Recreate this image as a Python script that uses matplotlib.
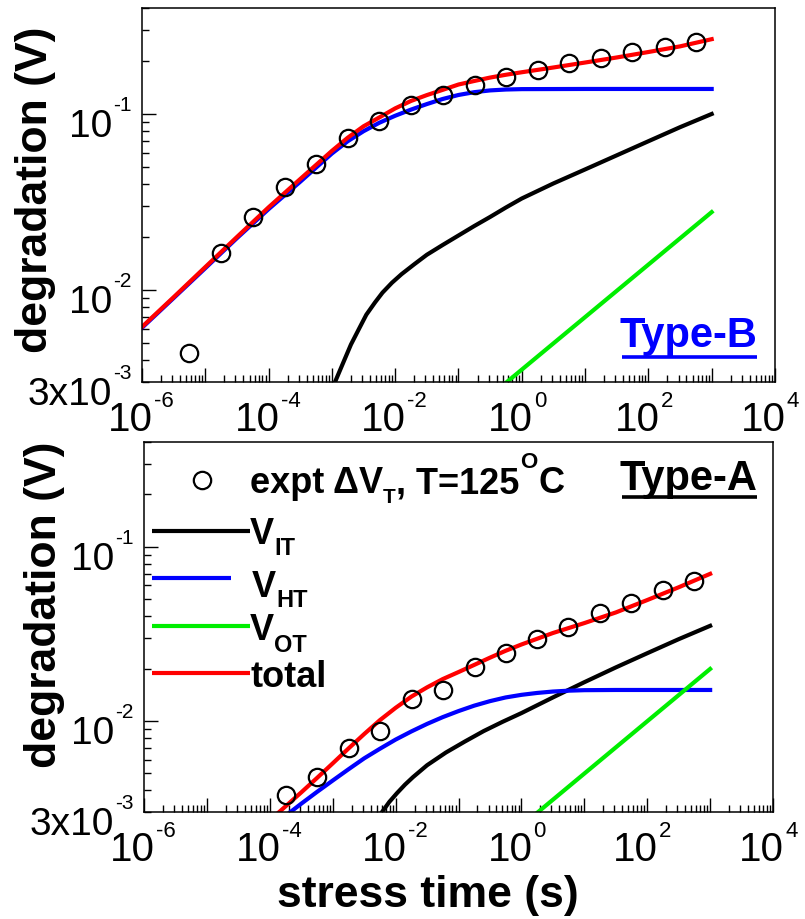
import matplotlib
matplotlib.use('Agg')
import matplotlib.pyplot as plt
from matplotlib.ticker import LogLocator, NullFormatter
import numpy as np

plt.rcParams['font.family'] = ['Liberation Sans', 'DejaVu Sans']

# ---- Type-B (upper panel) ----
b_expt_t = [5.6e-6, 1.8e-5, 5.6e-5, 1.8e-4, 5.6e-4, 1.8e-3, 5.6e-3, 1.8e-2, 5.6e-2,
            0.18, 0.56, 1.8, 5.6, 18, 56, 180, 560]
b_expt_v = [4.4e-3, 0.0162, 0.026, 0.0385, 0.052, 0.073, 0.091, 0.113, 0.129,
            0.147, 0.162, 0.178, 0.195, 0.208, 0.225, 0.240, 0.256]

b_total_t = [1e-6, 3.16e-6, 1e-5, 3.16e-5, 1e-4, 3.16e-4, 1e-3, 1.78e-3, 3.16e-3, 5.6e-3,
             0.01, 0.0178, 0.0316, 0.056, 0.1, 0.178, 0.316, 0.56, 1, 3.16, 10, 31.6,
             100, 316, 1000]
b_total_v = [6.17e-3, 9.1e-3, 0.0135, 0.020, 0.0295, 0.0427, 0.0617, 0.0733, 0.0851, 0.0955,
             0.1076, 0.1186, 0.128, 0.137, 0.147, 0.154, 0.161, 0.167, 0.1726, 0.1837,
             0.196, 0.2094, 0.2249, 0.2421, 0.266]

b_ht_t = [1e-6, 3.16e-6, 1e-5, 3.16e-5, 1e-4, 3.16e-4, 1e-3, 1.78e-3, 3.16e-3, 5.6e-3,
          0.01, 0.0178, 0.0316, 0.056, 0.1, 0.178, 0.316, 0.56, 1, 10, 1000]
b_ht_v = [6.1e-3, 9.0e-3, 0.0133, 0.0197, 0.0288, 0.0412, 0.0596, 0.070, 0.0798, 0.0891,
          0.0977, 0.1059, 0.1138, 0.1216, 0.1282, 0.133, 0.1361, 0.1377, 0.1384, 0.1387,
          0.1387]

b_it_t = [1.12e-3, 1.48e-3, 2e-3, 2.69e-3, 3.5e-3, 4.8e-3, 6.3e-3, 8.9e-3, 0.0126, 0.02,
          0.0316, 0.056, 0.1, 0.178, 0.316, 0.56, 1, 3.16, 10, 31.6, 100, 316, 1000]
b_it_v = [3.0e-3, 3.8e-3, 4.9e-3, 6.03e-3, 7.24e-3, 8.5e-3, 9.66e-3, 0.011, 0.0123, 0.0140,
          0.01585, 0.018, 0.0204, 0.0231, 0.026, 0.0294, 0.0331, 0.0403, 0.0484, 0.0582,
          0.070, 0.0841, 0.100]

b_ot_t = [0.58, 1000]
b_ot_v = [3.0e-3, 0.0277]

# ---- Type-A (lower panel) ----
a_expt_t = [1.8e-4, 5.6e-4, 1.8e-3, 5.6e-3, 0.018, 0.056, 0.18, 0.56, 1.8, 5.6,
            18, 56, 180, 560]
a_expt_v = [3.76e-3, 4.76e-3, 7.0e-3, 8.8e-3, 0.0134, 0.0151, 0.0204, 0.0246, 0.0296,
            0.0347, 0.0418, 0.0477, 0.0566, 0.0638]

a_total_t = [1.35e-4, 3.16e-4, 5.6e-4, 1e-3, 1.78e-3, 3.16e-3, 5.6e-3, 0.01, 0.0178,
             0.0316, 0.056, 0.1, 0.178, 0.316, 0.56, 1, 3.16, 10, 31.6, 100, 316, 1000]
a_total_v = [2.96e-3, 3.89e-3, 4.70e-3, 5.71e-3, 6.95e-3, 8.41e-3, 0.0101, 0.0119, 0.0138,
             0.0156, 0.0174, 0.0191, 0.021, 0.0231, 0.0253, 0.0275, 0.032, 0.0365, 0.042,
             0.0495, 0.0586, 0.070]

a_ht_t = [2.0e-4, 3.16e-4, 5.6e-4, 1e-3, 1.78e-3, 3.16e-3, 5.6e-3, 0.01, 0.0178, 0.0316,
          0.056, 0.1, 0.178, 0.316, 0.56, 1, 1.78, 3.16, 5.6, 10, 31.6, 1000]
a_ht_v = [2.95e-3, 3.35e-3, 3.91e-3, 4.55e-3, 5.28e-3, 6.1e-3, 6.92e-3, 7.82e-3, 8.71e-3,
          9.62e-3, 0.01052, 0.0114, 0.01225, 0.013, 0.01365, 0.01413, 0.01449, 0.01476,
          0.01493, 0.01503, 0.01507, 0.01507]

a_it_t = [6.08e-3, 7.94e-3, 0.0105, 0.0141, 0.0189, 0.0316, 0.063, 0.126, 0.251, 0.501,
          1, 3.16, 10, 31.6, 100, 316, 1000]
a_it_v = [3.0e-3, 3.43e-3, 3.85e-3, 4.31e-3, 4.76e-3, 5.57e-3, 6.59e-3, 7.62e-3, 8.75e-3,
          9.89e-3, 0.0111, 0.01365, 0.0167, 0.0203, 0.0245, 0.0295, 0.0352]

a_ot_t = [1.84, 1000]
a_ot_v = [3.0e-3, 0.0199]

x_label_exps = [-6, -4, -2, 0, 2, 4]
y_labels = [(3e-3, '3x10', '-3'), (1e-2, '10', '-2'), (1e-1, '10', '-1')]

RED = '#ff0000'
BLUE = '#0000ff'
GREEN = '#00ee00'


def setup_axes(ax):
    ax.set_xscale('log')
    ax.set_yscale('log')
    ax.set_xlim(1e-6, 1e4)
    ax.set_ylim(3e-3, 0.4)
    for axis in (ax.xaxis, ax.yaxis):
        axis.set_major_locator(LogLocator(base=10, numticks=30))
        axis.set_minor_locator(LogLocator(base=10, subs=np.arange(2, 10), numticks=30))
        axis.set_major_formatter(NullFormatter())
        axis.set_minor_formatter(NullFormatter())
    ax.tick_params(which='both', direction='in', top=False, right=False, width=1)
    ax.tick_params(which='major', length=10)
    ax.tick_params(which='minor', length=5)
    for s in ax.spines.values():
        s.set_linewidth(1.1)

    # tick labels drawn by hand: big mantissa, small exponent
    for d in x_label_exps:
        ax.annotate('10', xy=(10.0 ** d, 0), xycoords=('data', 'axes fraction'),
                    xytext=(11, -49), textcoords='offset pixels', ha='right',
                    va='baseline', fontsize=29, annotation_clip=False)
        ax.annotate('%d' % d, xy=(10.0 ** d, 0), xycoords=('data', 'axes fraction'),
                    xytext=(12, -25), textcoords='offset pixels', ha='left',
                    va='baseline', fontsize=16, annotation_clip=False)
    for val, main, ex in y_labels:
        ax.annotate(main, xy=(0, val), xycoords=('axes fraction', 'data'),
                    xytext=(-30, -23), textcoords='offset pixels', ha='right',
                    va='baseline', fontsize=28, annotation_clip=False)
        ax.annotate(ex, xy=(0, val), xycoords=('axes fraction', 'data'),
                    xytext=(-29, 3), textcoords='offset pixels', ha='left',
                    va='baseline', fontsize=15, annotation_clip=False)


def draw_curves(ax, it, ht, ot, tot, expt):
    ax.plot(it[0], it[1], color='k', lw=3)
    ax.plot(ht[0], ht[1], color=BLUE, lw=3)
    ax.plot(ot[0], ot[1], color=GREEN, lw=3)
    ax.plot(tot[0], tot[1], color=RED, lw=3)
    ax.plot(expt[0], expt[1], 'o', mfc='none', mec='k', ms=12.5, mew=1.6, zorder=5)


def chain(ax, prev, s, y, dx, dy, size):
    # place a piece of text right after the previous one
    return ax.annotate(s, xy=(1, y), xycoords=(prev, ax.transAxes), xytext=(dx, dy),
                       textcoords='offset pixels', fontsize=size, fontweight='bold',
                       ha='left', va='baseline', annotation_clip=False)


fig = plt.figure(figsize=(8.05, 9.19), dpi=100)
ax1 = fig.add_axes([0.1764, 0.5843, 0.7863, 0.4070])
ax2 = fig.add_axes([0.1789, 0.1164, 0.7814, 0.4026])

setup_axes(ax1)
draw_curves(ax1, (b_it_t, b_it_v), (b_ht_t, b_ht_v), (b_ot_t, b_ot_v),
            (b_total_t, b_total_v), (b_expt_t, b_expt_v))
ax1.text(0.9716, 0.0936, 'Type-B', transform=ax1.transAxes, ha='right', va='baseline',
         color=BLUE, fontsize=30, fontweight='bold')
ax1.plot([0.7583, 0.9716], [0.0668, 0.0668], color=BLUE, lw=2.6,
         solid_capstyle='butt', transform=ax1.transAxes)

setup_axes(ax2)
draw_curves(ax2, (a_it_t, a_it_v), (a_ht_t, a_ht_v), (a_ot_t, a_ot_v),
            (a_total_t, a_total_v), (a_expt_t, a_expt_v))
ax2.text(0.9746, 0.8703, 'Type-A', transform=ax2.transAxes, ha='right', va='baseline',
         color='k', fontsize=30, fontweight='bold')
ax2.plot([0.760, 0.9746], [0.8514, 0.8514], color='k', lw=2.6,
         solid_capstyle='butt', transform=ax2.transAxes)

# legend (hand placed)
ax2.plot([0.0922], [0.8973], 'o', mfc='none', mec='k', ms=12.5, mew=1.6,
         transform=ax2.transAxes, clip_on=False)
t = ax2.text(0.1685, 0.8622, u'expt \u0394V', transform=ax2.transAxes, fontsize=26,
             fontweight='bold', va='baseline')
t = chain(ax2, t, 'T', 0.8622, 0, -10, 15)
t = chain(ax2, t, ', T=125', 0.8622, 0, 0, 26)
t = chain(ax2, t, 'O', 0.8622, 1, 25, 16)
t = chain(ax2, t, 'C', 0.8622, 1, 0, 26)

leg = [('k', 0.1685, 0.7595, 0.1685, 0.7243, 'IT', -11),
       (BLUE, 0.1383, 0.6324, 0.1717, 0.5811, 'HT', -10),
       (GREEN, 0.1685, 0.5027, 0.1685, 0.4649, 'OT', -12)]
for c, x1, ly, tx, ty, sub, dy in leg:
    ax2.plot([0.0127, x1], [ly, ly], color=c, lw=3, transform=ax2.transAxes,
             solid_capstyle='butt')
    v = ax2.text(tx, ty, 'V', transform=ax2.transAxes, fontsize=26,
                 fontweight='bold', va='baseline')
    chain(ax2, v, sub, ty, 0, dy, 17)
ax2.plot([0.0127, 0.1685], [0.3757, 0.3757], color=RED, lw=3, transform=ax2.transAxes,
         solid_capstyle='butt')
ax2.text(0.1685, 0.3378, 'total', transform=ax2.transAxes, fontsize=26,
         fontweight='bold', va='baseline')

fig.text(0.0447, 0.793, 'degradation (V)', rotation=90, ha='center', va='center',
         fontsize=32, fontweight='bold')
fig.text(0.0547, 0.3415, 'degradation (V)', rotation=90, ha='center', va='center',
         fontsize=32, fontweight='bold')
fig.text(0.5317, 0.013, 'stress time (s)', ha='center', va='baseline',
         fontsize=32, fontweight='bold')

fig.savefig('out.png', dpi=100)
